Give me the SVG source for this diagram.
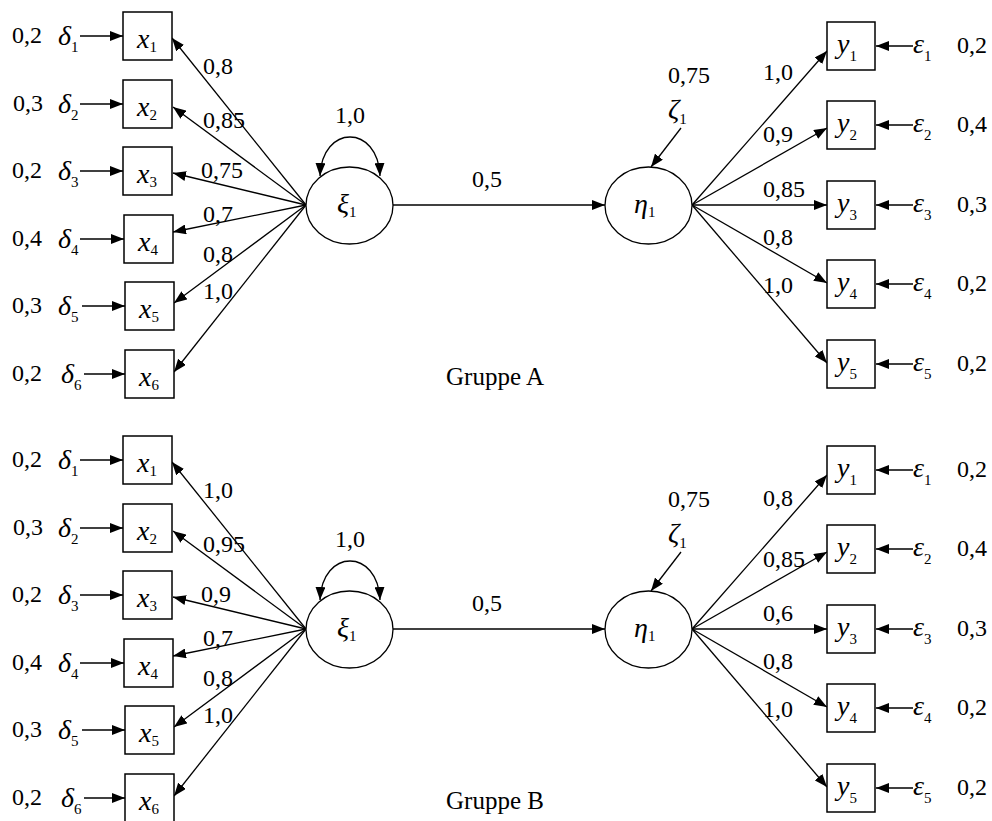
<svg xmlns="http://www.w3.org/2000/svg" width="992" height="821" viewBox="0 0 992 821">
<defs>
<marker id="ah" markerWidth="13" markerHeight="10" refX="13" refY="5" orient="auto-start-reverse" markerUnits="userSpaceOnUse"><path d="M0,0 L13,5 L0,10 z" fill="#000"/></marker>
<style>
.box{fill:#fff;stroke:#000;stroke-width:1.5}
.ell{fill:#fff;stroke:#000;stroke-width:1.3}
.ln{stroke:#000;stroke-width:1.3;fill:none;marker-end:url(#ah)}
.lp{stroke:#000;stroke-width:1.3;fill:none;marker-end:url(#ah);marker-start:url(#ah)}
.t{font-family:"Liberation Serif","Times New Roman",serif;font-size:24px;fill:#000}
.v{font-family:"Liberation Serif","Times New Roman",serif;font-size:28px;font-style:italic;fill:#000}
.s{font-size:15px;font-style:normal}
.g{font-family:"Liberation Serif","Times New Roman",serif;font-size:25px;fill:#000;text-anchor:middle}
</style>
</defs>
<rect width="992" height="821" fill="#fff"/>

<!-- ===== Gruppe A ===== -->
<g id="groupA">
<g id="A-connectors">
<line class="ln" x1="80" y1="36" x2="123" y2="36"/>
<line class="ln" x1="80" y1="104" x2="123" y2="104"/>
<line class="ln" x1="80" y1="171" x2="123" y2="171"/>
<line class="ln" x1="80" y1="239" x2="124" y2="239"/>
<line class="ln" x1="82" y1="306" x2="125" y2="306"/>
<line class="ln" x1="84" y1="374" x2="125" y2="374"/>
<line class="ln" x1="306" y1="205" x2="172" y2="38"/>
<line class="ln" x1="306" y1="205" x2="173" y2="107"/>
<line class="ln" x1="306" y1="205" x2="173" y2="173"/>
<line class="ln" x1="306" y1="205" x2="173" y2="232"/>
<line class="ln" x1="306" y1="205" x2="174" y2="303"/>
<line class="ln" x1="306" y1="205" x2="174" y2="372"/>
<path class="lp" d="M320,176 C322,124 378,124 380,176"/>
<line class="ln" x1="393" y1="205" x2="605" y2="205"/>
<line class="ln" x1="681" y1="128" x2="651" y2="167"/>
<line class="ln" x1="692" y1="205" x2="827" y2="51"/>
<line class="ln" x1="692" y1="205" x2="827" y2="128"/>
<line class="ln" x1="692" y1="205" x2="827" y2="205"/>
<line class="ln" x1="692" y1="205" x2="827" y2="283"/>
<line class="ln" x1="692" y1="205" x2="827" y2="363"/>
<line class="ln" x1="913" y1="46" x2="876" y2="46"/>
<line class="ln" x1="913" y1="125" x2="876" y2="125"/>
<line class="ln" x1="913" y1="205" x2="876" y2="205"/>
<line class="ln" x1="913" y1="284" x2="876" y2="284"/>
<line class="ln" x1="913" y1="364" x2="876" y2="364"/>
<text class="t" x="203" y="74">0,8</text>
<text class="t" x="203" y="128">0,85</text>
<text class="t" x="201" y="178">0,75</text>
<text class="t" x="203" y="222">0,7</text>
<text class="t" x="203" y="262">0,8</text>
<text class="t" x="203" y="299">1,0</text>
<text class="t" x="335" y="123">1,0</text>
<text class="t" x="472" y="187">0,5</text>
<text class="t" x="763" y="80">1,0</text>
<text class="t" x="763" y="142">0,9</text>
<text class="t" x="763" y="197">0,85</text>
<text class="t" x="763" y="245">0,8</text>
<text class="t" x="763" y="293">1,0</text>
</g>
<g id="A-d1"><text class="t" x="12" y="43">0,2</text><text class="v" x="58" y="45">δ<tspan class="s" dy="7">1</tspan></text></g>
<g id="A-d2"><text class="t" x="13" y="111">0,3</text><text class="v" x="58" y="113">δ<tspan class="s" dy="7">2</tspan></text></g>
<g id="A-d3"><text class="t" x="12" y="178">0,2</text><text class="v" x="58" y="180">δ<tspan class="s" dy="7">3</tspan></text></g>
<g id="A-d4"><text class="t" x="12" y="246">0,4</text><text class="v" x="58" y="248">δ<tspan class="s" dy="7">4</tspan></text></g>
<g id="A-d5"><text class="t" x="12" y="313">0,3</text><text class="v" x="58" y="315">δ<tspan class="s" dy="7">5</tspan></text></g>
<g id="A-d6"><text class="t" x="12" y="381">0,2</text><text class="v" x="61" y="383">δ<tspan class="s" dy="7">6</tspan></text></g>
<g id="A-x1"><rect class="box" x="123" y="12" width="49" height="48"/><text class="v" x="137" y="48">x<tspan class="s" dy="4">1</tspan></text></g>
<g id="A-x2"><rect class="box" x="123" y="80" width="49" height="48"/><text class="v" x="137" y="116">x<tspan class="s" dy="4">2</tspan></text></g>
<g id="A-x3"><rect class="box" x="123" y="147" width="49" height="48"/><text class="v" x="137" y="183">x<tspan class="s" dy="4">3</tspan></text></g>
<g id="A-x4"><rect class="box" x="124" y="215" width="49" height="48"/><text class="v" x="138" y="251">x<tspan class="s" dy="4">4</tspan></text></g>
<g id="A-x5"><rect class="box" x="125" y="282" width="49" height="48"/><text class="v" x="139" y="318">x<tspan class="s" dy="4">5</tspan></text></g>
<g id="A-x6"><rect class="box" x="125" y="350" width="49" height="48"/><text class="v" x="139" y="386">x<tspan class="s" dy="4">6</tspan></text></g>
<g id="A-xi"><ellipse class="ell" cx="349.5" cy="205.5" rx="43.5" ry="38.5"/><text class="v" x="337" y="213">ξ<tspan class="s" dy="4">1</tspan></text></g>
<g id="A-eta"><ellipse class="ell" cx="648.5" cy="205.5" rx="43.5" ry="38.5"/><text class="v" x="634" y="213">η<tspan class="s" dy="4">1</tspan></text></g>
<g id="A-zeta"><text class="t" x="668" y="83">0,75</text><text class="v" x="668" y="118">ζ<tspan class="s" dy="6">1</tspan></text></g>
<g id="A-y1"><rect class="box" x="827" y="22" width="48" height="48"/><text class="v" x="837" y="53">y<tspan class="s" dy="8">1</tspan></text></g>
<g id="A-y2"><rect class="box" x="827" y="101" width="48" height="48"/><text class="v" x="837" y="132">y<tspan class="s" dy="8">2</tspan></text></g>
<g id="A-y3"><rect class="box" x="827" y="181" width="48" height="48"/><text class="v" x="837" y="212">y<tspan class="s" dy="8">3</tspan></text></g>
<g id="A-y4"><rect class="box" x="827" y="260" width="48" height="48"/><text class="v" x="837" y="291">y<tspan class="s" dy="8">4</tspan></text></g>
<g id="A-y5"><rect class="box" x="827" y="340" width="48" height="48"/><text class="v" x="837" y="371">y<tspan class="s" dy="8">5</tspan></text></g>
<g id="A-e1"><text class="v" x="913" y="53">ε<tspan class="s" dy="8">1</tspan></text><text class="t" x="957" y="53">0,2</text></g>
<g id="A-e2"><text class="v" x="913" y="132">ε<tspan class="s" dy="8">2</tspan></text><text class="t" x="957" y="132">0,4</text></g>
<g id="A-e3"><text class="v" x="913" y="212">ε<tspan class="s" dy="8">3</tspan></text><text class="t" x="957" y="212">0,3</text></g>
<g id="A-e4"><text class="v" x="913" y="291">ε<tspan class="s" dy="8">4</tspan></text><text class="t" x="957" y="291">0,2</text></g>
<g id="A-e5"><text class="v" x="913" y="371">ε<tspan class="s" dy="8">5</tspan></text><text class="t" x="957" y="371">0,2</text></g>
<text class="g" x="495" y="385">Gruppe A</text>
</g>

<!-- ===== Gruppe B ===== -->
<g id="groupB" transform="translate(0,424)">
<g id="B-connectors">
<line class="ln" x1="80" y1="36" x2="123" y2="36"/>
<line class="ln" x1="80" y1="104" x2="123" y2="104"/>
<line class="ln" x1="80" y1="171" x2="123" y2="171"/>
<line class="ln" x1="80" y1="239" x2="124" y2="239"/>
<line class="ln" x1="82" y1="306" x2="125" y2="306"/>
<line class="ln" x1="84" y1="374" x2="125" y2="374"/>
<line class="ln" x1="306" y1="205" x2="172" y2="38"/>
<line class="ln" x1="306" y1="205" x2="173" y2="107"/>
<line class="ln" x1="306" y1="205" x2="173" y2="173"/>
<line class="ln" x1="306" y1="205" x2="173" y2="232"/>
<line class="ln" x1="306" y1="205" x2="174" y2="303"/>
<line class="ln" x1="306" y1="205" x2="174" y2="372"/>
<path class="lp" d="M320,176 C322,124 378,124 380,176"/>
<line class="ln" x1="393" y1="205" x2="605" y2="205"/>
<line class="ln" x1="681" y1="128" x2="651" y2="167"/>
<line class="ln" x1="692" y1="205" x2="827" y2="51"/>
<line class="ln" x1="692" y1="205" x2="827" y2="128"/>
<line class="ln" x1="692" y1="205" x2="827" y2="205"/>
<line class="ln" x1="692" y1="205" x2="827" y2="283"/>
<line class="ln" x1="692" y1="205" x2="827" y2="363"/>
<line class="ln" x1="913" y1="46" x2="876" y2="46"/>
<line class="ln" x1="913" y1="125" x2="876" y2="125"/>
<line class="ln" x1="913" y1="205" x2="876" y2="205"/>
<line class="ln" x1="913" y1="284" x2="876" y2="284"/>
<line class="ln" x1="913" y1="364" x2="876" y2="364"/>
<text class="t" x="203" y="74">1,0</text>
<text class="t" x="203" y="128">0,95</text>
<text class="t" x="201" y="178">0,9</text>
<text class="t" x="203" y="222">0,7</text>
<text class="t" x="203" y="262">0,8</text>
<text class="t" x="203" y="299">1,0</text>
<text class="t" x="335" y="123">1,0</text>
<text class="t" x="472" y="187">0,5</text>
<text class="t" x="763" y="82">0,8</text>
<text class="t" x="763" y="143">0,85</text>
<text class="t" x="763" y="197">0,6</text>
<text class="t" x="763" y="245">0,8</text>
<text class="t" x="763" y="293">1,0</text>
</g>
<g id="B-d1"><text class="t" x="12" y="43">0,2</text><text class="v" x="58" y="45">δ<tspan class="s" dy="7">1</tspan></text></g>
<g id="B-d2"><text class="t" x="13" y="111">0,3</text><text class="v" x="58" y="113">δ<tspan class="s" dy="7">2</tspan></text></g>
<g id="B-d3"><text class="t" x="12" y="178">0,2</text><text class="v" x="58" y="180">δ<tspan class="s" dy="7">3</tspan></text></g>
<g id="B-d4"><text class="t" x="12" y="246">0,4</text><text class="v" x="58" y="248">δ<tspan class="s" dy="7">4</tspan></text></g>
<g id="B-d5"><text class="t" x="12" y="313">0,3</text><text class="v" x="58" y="315">δ<tspan class="s" dy="7">5</tspan></text></g>
<g id="B-d6"><text class="t" x="12" y="381">0,2</text><text class="v" x="61" y="383">δ<tspan class="s" dy="7">6</tspan></text></g>
<g id="B-x1"><rect class="box" x="123" y="12" width="49" height="48"/><text class="v" x="137" y="48">x<tspan class="s" dy="4">1</tspan></text></g>
<g id="B-x2"><rect class="box" x="123" y="80" width="49" height="48"/><text class="v" x="137" y="116">x<tspan class="s" dy="4">2</tspan></text></g>
<g id="B-x3"><rect class="box" x="123" y="147" width="49" height="48"/><text class="v" x="137" y="183">x<tspan class="s" dy="4">3</tspan></text></g>
<g id="B-x4"><rect class="box" x="124" y="215" width="49" height="48"/><text class="v" x="138" y="251">x<tspan class="s" dy="4">4</tspan></text></g>
<g id="B-x5"><rect class="box" x="125" y="282" width="49" height="48"/><text class="v" x="139" y="318">x<tspan class="s" dy="4">5</tspan></text></g>
<g id="B-x6"><rect class="box" x="125" y="350" width="49" height="48"/><text class="v" x="139" y="386">x<tspan class="s" dy="4">6</tspan></text></g>
<g id="B-xi"><ellipse class="ell" cx="349.5" cy="205.5" rx="43.5" ry="38.5"/><text class="v" x="337" y="213">ξ<tspan class="s" dy="4">1</tspan></text></g>
<g id="B-eta"><ellipse class="ell" cx="648.5" cy="205.5" rx="43.5" ry="38.5"/><text class="v" x="634" y="213">η<tspan class="s" dy="4">1</tspan></text></g>
<g id="B-zeta"><text class="t" x="668" y="83">0,75</text><text class="v" x="668" y="118">ζ<tspan class="s" dy="6">1</tspan></text></g>
<g id="B-y1"><rect class="box" x="827" y="22" width="48" height="48"/><text class="v" x="837" y="53">y<tspan class="s" dy="8">1</tspan></text></g>
<g id="B-y2"><rect class="box" x="827" y="101" width="48" height="48"/><text class="v" x="837" y="132">y<tspan class="s" dy="8">2</tspan></text></g>
<g id="B-y3"><rect class="box" x="827" y="181" width="48" height="48"/><text class="v" x="837" y="212">y<tspan class="s" dy="8">3</tspan></text></g>
<g id="B-y4"><rect class="box" x="827" y="260" width="48" height="48"/><text class="v" x="837" y="291">y<tspan class="s" dy="8">4</tspan></text></g>
<g id="B-y5"><rect class="box" x="827" y="340" width="48" height="48"/><text class="v" x="837" y="371">y<tspan class="s" dy="8">5</tspan></text></g>
<g id="B-e1"><text class="v" x="913" y="53">ε<tspan class="s" dy="8">1</tspan></text><text class="t" x="957" y="53">0,2</text></g>
<g id="B-e2"><text class="v" x="913" y="132">ε<tspan class="s" dy="8">2</tspan></text><text class="t" x="957" y="132">0,4</text></g>
<g id="B-e3"><text class="v" x="913" y="212">ε<tspan class="s" dy="8">3</tspan></text><text class="t" x="957" y="212">0,3</text></g>
<g id="B-e4"><text class="v" x="913" y="291">ε<tspan class="s" dy="8">4</tspan></text><text class="t" x="957" y="291">0,2</text></g>
<g id="B-e5"><text class="v" x="913" y="371">ε<tspan class="s" dy="8">5</tspan></text><text class="t" x="957" y="371">0,2</text></g>
<text class="g" x="495" y="385">Gruppe B</text>
</g>
</svg>
